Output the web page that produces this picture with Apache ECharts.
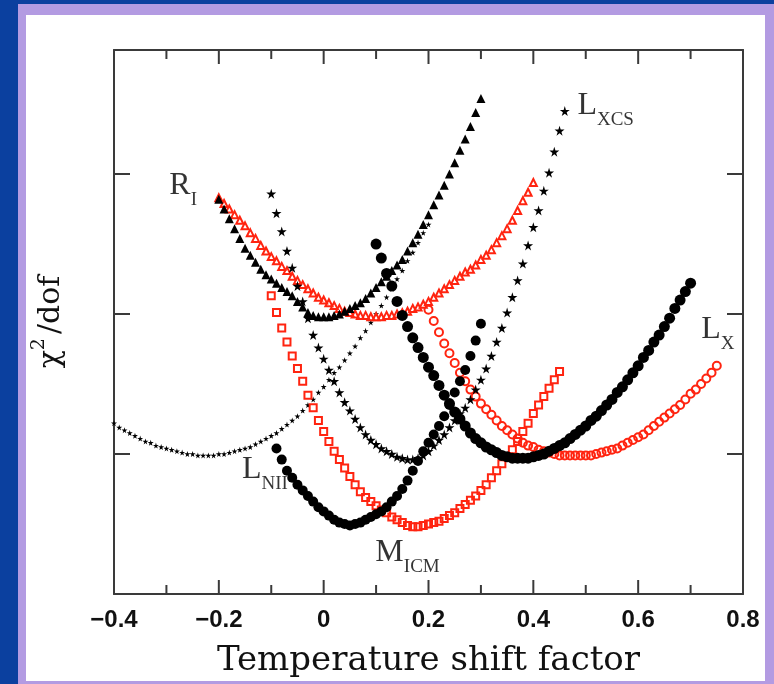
<!DOCTYPE html>
<html>
<head>
<meta charset="utf-8">
<script src="https://cdn.jsdelivr.net/npm/echarts/dist/echarts.min.js"></script>
<style>
  html, body { margin: 0; padding: 0; }
  body { width: 774px; height: 684px; background: #0b409f; position: relative; overflow: hidden; }
  #frame { position: absolute; left: 18px; top: 4px; width: 756px; height: 680px; background: #b39be2; }
  #panel { position: absolute; left: 26px; top: 15px; width: 739px; height: 666px; background: #ffffff; }
  #chart { position: absolute; left: 0; top: 0; width: 774px; height: 684px; }
</style>
</head>
<body>
<div id="frame"></div>
<div id="panel"></div>
<div id="chart"></div>
<script>
// Each curve is sampled on a regular grid of temperature shift factors (step 0.01),
// starting at the given shift; the arrays hold chi^2/dof at each sample.
const STEP = 0.01;

// R_I, black triangles
const riBlackStart = -0.20;
const riBlack = [2.82, 2.75, 2.68, 2.61, 2.54, 2.47, 2.42, 2.37, 2.32, 2.28,
  2.25, 2.22, 2.19, 2.16, 2.13, 2.09, 2.05, 2.01, 1.99, 1.98,
  1.98, 1.98, 1.99, 2.00, 2.02, 2.04, 2.06, 2.08, 2.11, 2.15,
  2.19, 2.23, 2.27, 2.31, 2.35, 2.39, 2.45, 2.51, 2.57, 2.64,
  2.71, 2.78, 2.85, 2.92, 3.00, 3.08, 3.17, 3.25, 3.34, 3.44, 3.54];

// R_I, red triangles
const riRedStart = -0.20;
const riRed = [2.83, 2.79, 2.75, 2.71, 2.67, 2.63, 2.58, 2.54, 2.49, 2.45,
  2.41, 2.38, 2.34, 2.31, 2.27, 2.24, 2.21, 2.18, 2.15, 2.12,
  2.10, 2.08, 2.06, 2.04, 2.02, 2.01, 2.00, 1.99, 1.99, 1.98,
  1.98, 1.98, 1.99, 1.99, 2.00, 2.01, 2.02, 2.04, 2.05, 2.07,
  2.09, 2.12, 2.15, 2.18, 2.21, 2.24, 2.27, 2.30, 2.32, 2.35,
  2.39, 2.42, 2.46, 2.51, 2.56, 2.61, 2.67, 2.74, 2.81, 2.87, 2.94];

// L_XCS, black stars
const lxcsStart = -0.10;
const lxcs = [2.86, 2.72, 2.59, 2.45, 2.33, 2.20, 2.09, 1.97, 1.85, 1.76,
  1.68, 1.60, 1.52, 1.44, 1.37, 1.31, 1.25, 1.19, 1.14, 1.10,
  1.07, 1.04, 1.02, 1.00, 0.98, 0.97, 0.96, 0.96, 0.97, 0.99,
  1.02, 1.06, 1.10, 1.14, 1.19, 1.24, 1.29, 1.33, 1.39, 1.46,
  1.53, 1.61, 1.70, 1.80, 1.90, 2.01, 2.12, 2.24, 2.36, 2.49,
  2.62, 2.74, 2.88, 3.01, 3.16, 3.31, 3.45];

// Broad curve, small black stars
const broadStart = -0.40;
const broad = [1.22, 1.19, 1.17, 1.15, 1.13, 1.11, 1.09, 1.08, 1.06, 1.05,
  1.04, 1.03, 1.02, 1.01, 1.00, 1.00, 0.99, 0.99, 0.99, 0.99,
  1.00, 1.00, 1.01, 1.02, 1.03, 1.04, 1.05, 1.07, 1.09, 1.11,
  1.13, 1.15, 1.18, 1.21, 1.24, 1.27, 1.31, 1.35, 1.39, 1.44,
  1.48, 1.53, 1.58, 1.62, 1.67, 1.72, 1.77, 1.83, 1.88, 1.94,
  2.00, 2.06, 2.12, 2.18, 2.25, 2.31, 2.38, 2.44, 2.51, 2.58, 2.64];

// L_NII, black dots
const lniiStart = -0.09;
const lnii = [1.04, 0.96, 0.88, 0.83, 0.78, 0.74, 0.70, 0.66, 0.62, 0.59,
  0.56, 0.53, 0.51, 0.50, 0.49, 0.50, 0.51, 0.53, 0.55, 0.57,
  0.59, 0.62, 0.66, 0.70, 0.75, 0.81, 0.88, 0.95, 1.02, 1.08,
  1.14, 1.20, 1.27, 1.35, 1.44, 1.52, 1.60, 1.70, 1.81, 1.93];

// L_X, black dots
const lxBlackStart = 0.10;
const lxBlack = [2.50, 2.40, 2.29, 2.20, 2.09, 1.99, 1.91, 1.83, 1.76, 1.69,
  1.62, 1.56, 1.49, 1.42, 1.36, 1.30, 1.25, 1.20, 1.15, 1.11,
  1.08, 1.05, 1.03, 1.01, 0.99, 0.98, 0.97, 0.97, 0.97, 0.97,
  0.98, 0.99, 1.00, 1.02, 1.04, 1.06, 1.08, 1.11, 1.14, 1.17,
  1.20, 1.24, 1.27, 1.31, 1.35, 1.39, 1.44, 1.48, 1.53, 1.58,
  1.63, 1.69, 1.74, 1.80, 1.85, 1.91, 1.97, 2.04, 2.10, 2.16, 2.22];

// L_X, red open circles
const lxRedStart = 0.20;
const lxRed = [2.03, 1.95, 1.87, 1.79, 1.72, 1.65, 1.58, 1.52, 1.46, 1.41,
  1.36, 1.32, 1.28, 1.24, 1.20, 1.17, 1.14, 1.11, 1.08, 1.06,
  1.05, 1.03, 1.02, 1.01, 1.00, 0.99, 0.99, 0.99, 0.99, 0.99,
  0.99, 0.99, 1.00, 1.01, 1.02, 1.03, 1.04, 1.06, 1.08, 1.10,
  1.12, 1.14, 1.17, 1.20, 1.23, 1.26, 1.29, 1.32, 1.35, 1.39,
  1.43, 1.46, 1.50, 1.54, 1.58, 1.63];

// M_ICM, red open squares
const micmStart = -0.10;
const micm = [2.13, 2.01, 1.90, 1.80, 1.70, 1.61, 1.52, 1.42, 1.33, 1.24,
  1.16, 1.09, 1.02, 0.96, 0.90, 0.84, 0.78, 0.73, 0.69, 0.66,
  0.63, 0.60, 0.58, 0.55, 0.53, 0.51, 0.49, 0.48, 0.48, 0.49,
  0.50, 0.51, 0.52, 0.54, 0.56, 0.58, 0.61, 0.64, 0.67, 0.70,
  0.74, 0.78, 0.83, 0.88, 0.93, 0.98, 1.03, 1.09, 1.16, 1.22,
  1.29, 1.35, 1.41, 1.47, 1.53, 1.59];

// Curve labels and where they sit (data coordinates)
const labelText = ['{m|R}{s|I}', '{m|L}{s|XCS}', '{m|L}{s|X}', '{m|L}{s|NII}', '{m|M}{s|ICM}'];
const labelShift = [-0.268, 0.538, 0.752, -0.112, 0.160];
const labelChi = [2.89, 3.46, 1.86, 0.86, 0.27];

// Axis ranges; tick marks along the top and bottom frame (long and short)
const xMin = -0.4, xMax = 0.8, xStep = 0.2;
const yMin = 0, yMax = 3.886, yStep = 1;
const xLongTicks = [-0.2, 0, 0.2, 0.4, 0.6];
const xShortTicks = [-0.3, -0.1, 0.1, 0.3, 0.5, 0.7];
const LONG_TICK_PX = 14, SHORT_TICK_PX = 9;

function sampled(start, values) {
  return values.map((v, i) => [+(start + i * STEP).toFixed(2), v]);
}

const STAR = 'path://M50,0 L61,35 L98,35 L68,57 L79,91 L50,70 L21,91 L32,57 L2,35 L39,35 Z';
const RED = '#ff2410';
const INK = '#000000';
const AXIS = '#3a3a3a';

function pts(name, data, symbol, size, style) {
  return {
    name, type: 'scatter', data, symbol, symbolSize: size, xAxisIndex: 0, yAxisIndex: 0,
    itemStyle: Object.assign({ opacity: 1 }, style), silent: true, animation: false
  };
}

function frameLine() {
  return { show: true, onZero: false, lineStyle: { color: AXIS, width: 2 } };
}

function ySide(position) {
  return {
    type: 'value', position, min: yMin, max: yMax, interval: yStep,
    axisLine: frameLine(),
    axisTick: { show: true, inside: true, length: 16, lineStyle: { color: AXIS, width: 2 } },
    splitLine: { show: false }, splitArea: { show: false }, axisLabel: { show: false }
  };
}

const yLeft = ySide('left');
yLeft.name = '{c|\u03c7}{p|2}{c|/dof}';
yLeft.nameLocation = 'middle';
yLeft.nameGap = 48;
yLeft.nameRotate = 90;
yLeft.nameTextStyle = {
  rich: {
    c: { fontFamily: 'DejaVu Serif', fontSize: 30, color: '#111', lineHeight: 36, verticalAlign: 'bottom' },
    p: { fontFamily: 'DejaVu Serif', fontSize: 19, color: '#111', lineHeight: 36, verticalAlign: 'top', padding: [0, 4, 0, 0] }
  }
};

const xCommon = {
  type: 'value', min: xMin, max: xMax, interval: xStep,
  axisLine: frameLine(), axisTick: { show: false },
  splitLine: { show: false }, splitArea: { show: false }, minorSplitLine: { show: false }
};

const chart = echarts.init(document.getElementById('chart'), null, { renderer: 'canvas' });
chart.setOption({
  backgroundColor: 'transparent',
  animation: false,
  grid: { left: 114, right: 31, top: 50, bottom: 90 },
  xAxis: [
    Object.assign({}, xCommon, {
      position: 'bottom',
      axisLabel: {
        show: true, margin: 14, color: '#111', fontFamily: 'Liberation Sans', fontWeight: 'bold', fontSize: 24,
        formatter: v => (Math.abs(v) < 1e-9 ? '0' : (+v.toFixed(1)).toString().replace('-', '\u2212'))
      },
      name: 'Temperature shift factor', nameLocation: 'middle', nameGap: 50,
      nameTextStyle: { fontFamily: 'DejaVu Serif', fontSize: 34, color: '#111' }
    }),
    Object.assign({}, xCommon, { position: 'top', axisLabel: { show: false } })
  ],
  yAxis: [yLeft, ySide('right')],
  series: [
    pts('broad', sampled(broadStart, broad), STAR, 6, { color: INK }),
    pts('R_I red', sampled(riRedStart, riRed), 'triangle', 7, { color: 'rgba(255,255,255,0)', borderColor: RED, borderWidth: 2 }),
    pts('M_ICM', sampled(micmStart, micm), 'rect', 7, { color: 'rgba(255,255,255,0)', borderColor: RED, borderWidth: 2 }),
    pts('L_X red', sampled(lxRedStart, lxRed), 'circle', 8, { color: 'rgba(255,255,255,0)', borderColor: RED, borderWidth: 2 }),
    pts('R_I black', sampled(riBlackStart, riBlack), 'triangle', 9, { color: INK }),
    pts('L_XCS', sampled(lxcsStart, lxcs), STAR, 10, { color: INK }),
    pts('L_NII', sampled(lniiStart, lnii), 'circle', 10, { color: INK }),
    pts('L_X black', sampled(lxBlackStart, lxBlack), 'circle', 11, { color: INK }),
    {
      name: 'curve labels', type: 'scatter', silent: true, animation: false,
      xAxisIndex: 0, yAxisIndex: 0, symbolSize: 0,
      data: labelText.map((t, i) => [labelShift[i], labelChi[i], t]),
      label: {
        show: true, position: 'inside', align: 'center', verticalAlign: 'middle',
        formatter: p => p.data[2],
        rich: {
          m: { fontFamily: 'Liberation Serif', fontSize: 32, color: '#000', lineHeight: 40, verticalAlign: 'top' },
          s: { fontFamily: 'Liberation Serif', fontSize: 19, color: '#000', lineHeight: 40, verticalAlign: 'bottom' }
        }
      }
    }
  ]
});

// Inward tick marks on the bottom and top frame lines, placed through the grid's scales
// (drawn as thin filled bars, 2px wide)
const tickBars = [];
[[xLongTicks, LONG_TICK_PX], [xShortTicks, SHORT_TICK_PX]].forEach(([values, len]) => {
  values.forEach(v => {
    const b = chart.convertToPixel({ gridIndex: 0 }, [v, yMin]);
    const t = chart.convertToPixel({ gridIndex: 0 }, [v, yMax]);
    if (!b || !t) return;
    const style = { fill: AXIS };
    tickBars.push({ type: 'rect', silent: true, zlevel: 5, z: 100, shape: { x: b[0] - 1, y: b[1] - len, width: 2, height: len }, style });
    tickBars.push({ type: 'rect', silent: true, zlevel: 5, z: 100, shape: { x: t[0] - 1, y: t[1], width: 2, height: len }, style });
  });
});
chart.setOption({ graphic: tickBars });
</script>
</body>
</html>
